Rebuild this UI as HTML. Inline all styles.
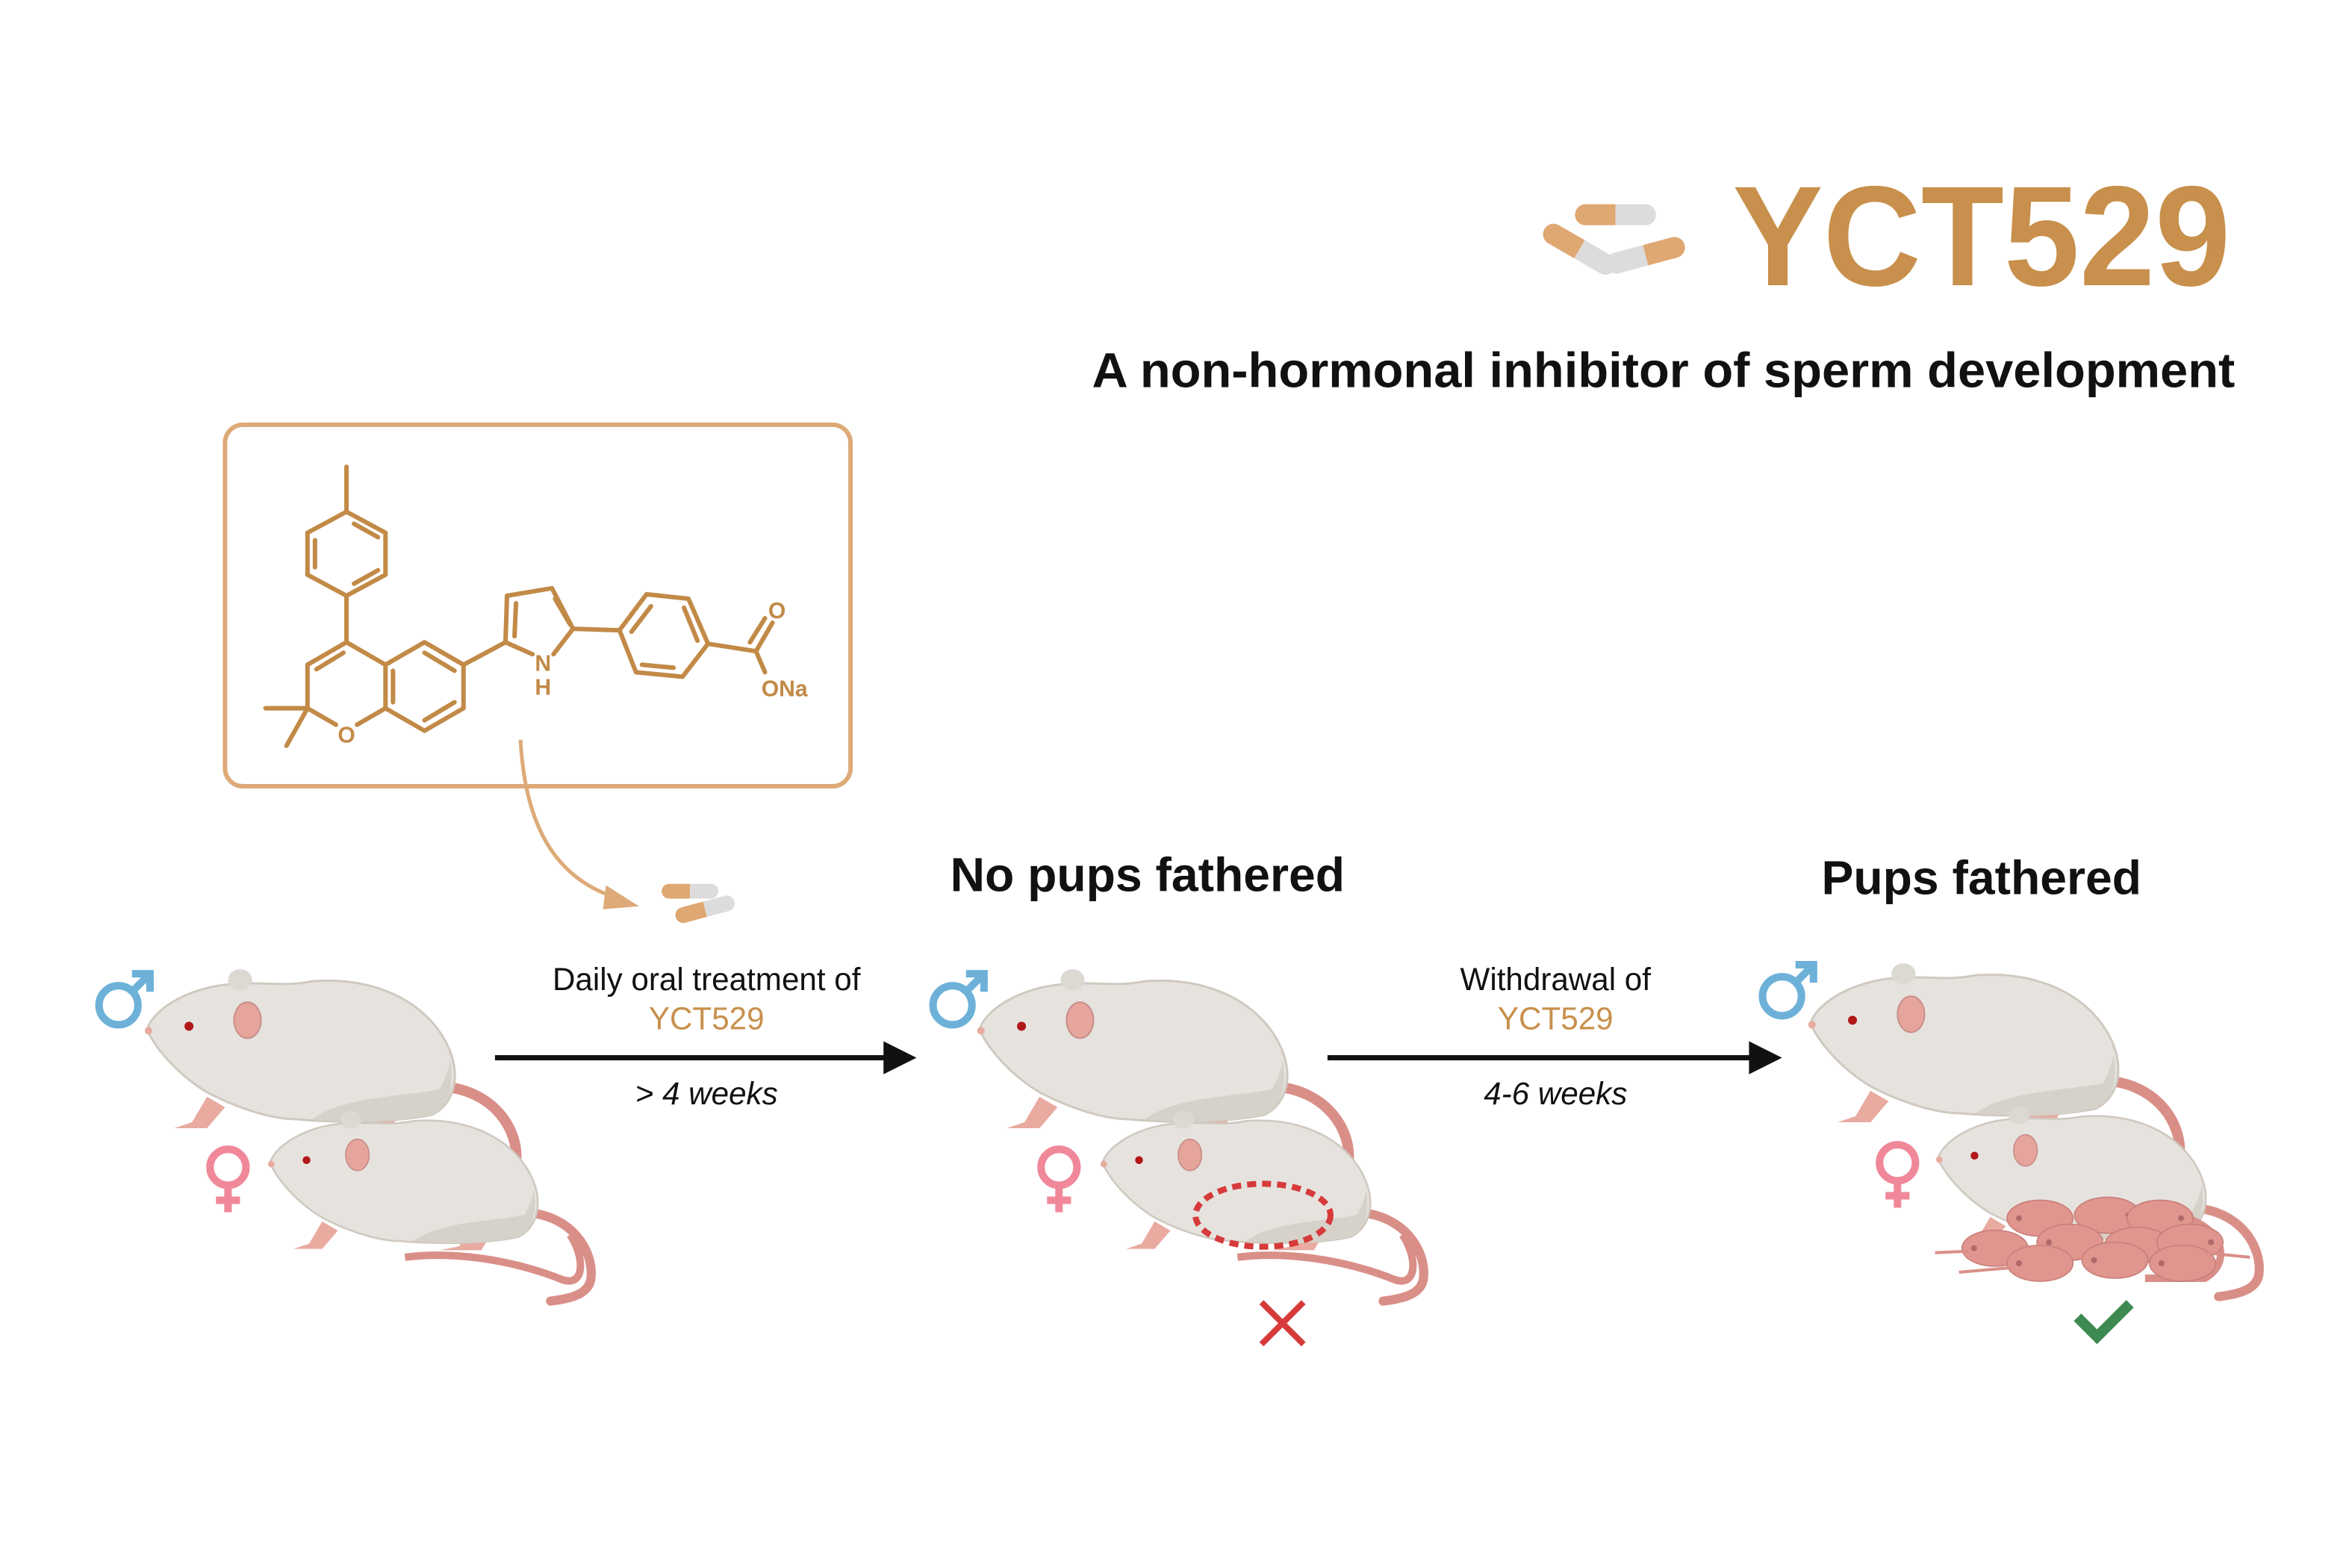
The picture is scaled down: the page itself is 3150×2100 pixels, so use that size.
<!DOCTYPE html>
<html><head><meta charset="utf-8"><style>
html,body{margin:0;padding:0;background:#fff;}
svg{display:block;}
text{font-family:"Liberation Sans",Arial,sans-serif;}
</style></head><body>
<svg width="3150" height="2100" viewBox="0 0 1568 1045" xmlns="http://www.w3.org/2000/svg">
<defs>
<g id="rat">
  <path d="M195,38 C232,40 248,68 246,88 C245,100 232,104 215,106" fill="none" stroke="#d98f88" stroke-width="7" stroke-linecap="round"/>
  <path d="M40,45 L30,62 L18,66 L40,66 L52,52Z" fill="#e9aaa0"/>
  <path d="M150,52 L145,64 L130,67 L162,67 L172,50Z" fill="#e9aaa0"/>
  <path d="M0,0 C5,-15 30,-28 55,-30 C80,-32 90,-28 110,-32 C150,-35 185,-20 200,10 C210,30 205,50 190,57 C160,63 120,62 100,60 C80,60 55,50 40,42 C20,30 5,12 0,0Z" fill="#e6e3df" stroke="#cfc9c0" stroke-width="1.5"/>
  <path d="M110,60 C130,45 170,45 195,40 C200,30 205,20 200,10 C205,30 205,50 190,57 C160,63 130,62 110,60Z" fill="#d6d1c9"/>
  <ellipse cx="62" cy="-33" rx="8" ry="7" fill="#dcd8d2"/>
  <ellipse cx="67" cy="-6" rx="9" ry="12" fill="#e5a59d" stroke="#c98f88" stroke-width="1"/>
  <circle cx="28" cy="-2" r="3" fill="#b01818"/>
  <circle cx="1" cy="1" r="2.5" fill="#e9aaa0"/>
</g>
<g id="pup">
  <ellipse cx="0" cy="0" rx="22" ry="12" fill="#e1958f" stroke="#c77f79" stroke-width="0.8"/>
  <circle cx="-14" cy="0" r="2" fill="#b06a6a"/>
</g>
<g id="capsule">
  <path d="M-20,-7 L0,-7 L0,7 L-20,7 A7,7 0 0 1 -20,-7Z" fill="#dfa772"/>
  <path d="M0,-7 L20,-7 A7,7 0 0 1 20,7 L0,7Z" fill="#dcdcdc"/>
</g>
</defs>

<!-- header -->
<g transform="translate(1077,143)"><use href="#capsule"/></g>
<g transform="translate(1053,166) rotate(30)"><use href="#capsule"/></g>
<g transform="translate(1097,170) rotate(-15) scale(-1,1)"><use href="#capsule"/></g>
<text x="1155" y="190" font-size="95" font-weight="bold" fill="#c8904c" textLength="332" lengthAdjust="spacingAndGlyphs">YCT529</text>
<text x="728" y="258" font-size="33" font-weight="bold" fill="#111" textLength="762" lengthAdjust="spacingAndGlyphs">A non-hormonal inhibitor of sperm development</text>

<!-- molecule box -->
<rect x="150" y="283" width="417" height="241" rx="12" fill="none" stroke="#ddaa78" stroke-width="3"/>
<g stroke="#c28a47" stroke-width="3" fill="none" stroke-linecap="round" stroke-linejoin="round">
  <path d="M231,311 L231,341"/>
  <path d="M231,341 L257,355 L257,383 L231,397 L205,383 L205,355 Z"/>
  <path d="M236,349 L252,358 M252,380 L236,389 M210,360 L210,378"/>
  <path d="M231,397 L231,428 L205,443 L205,472 L224,483"/>
  <path d="M238,483 L257,472"/>
  <path d="M231,428 L257,443"/>
  <path d="M229,435 L211,446"/>
  <path d="M257,443 L283,428 L309,443 L309,472 L283,487 L257,472 Z"/>
  <path d="M283,435 L303,447 M303,468 L283,480 M262,447 L262,468"/>
  <path d="M205,472 L177,472 M205,472 L191,497"/>
  <path d="M309,443 L337,428 L338,397 L368,392 L382,419 L369,436"/>
  <path d="M355,436 L337,428"/>
  <path d="M344,402 L343,424 M370,399 L380,416"/>
  <path d="M382,419 L413,420"/>
  <path d="M413,420 L431,396 L459,399 L472,429 L455,451 L424,448 Z"/>
  <path d="M434,404 L421,421 M456,405 L465,427 M449,445 L428,443"/>
  <path d="M472,429 L504,434 L510,448 M504,434 L515,415 M500,428 L510,412"/>
</g>
<g fill="#c28a47" font-size="15" font-weight="bold" text-anchor="middle">
  <text x="231" y="495">O</text>
  <text x="362" y="447">N</text>
  <text x="362" y="463">H</text>
  <text x="518" y="412">O</text>
  <text x="523" y="464">ONa</text>
</g>

<!-- curved arrow -->
<path d="M347,493 C350,550 370,585 410,598" fill="none" stroke="#ddaa78" stroke-width="2.5"/>
<path d="M426,604 L404,590 L402,606Z" fill="#ddaa78"/>
<g transform="translate(460,594) scale(0.7)"><use href="#capsule"/></g>
<g transform="translate(470,606) rotate(-15) scale(0.75)"><use href="#capsule"/></g>

<!-- group 1 -->
<g transform="translate(98,686)"><use href="#rat"/></g>
<g transform="translate(180,775) scale(0.87)"><use href="#rat"/></g>
<g transform="translate(270,788)"><path d="M0,50 C40,45 80,55 105,65 C120,70 120,50 110,35" fill="none" stroke="#d98f88" stroke-width="5"/></g>

<!-- group 2 -->
<g transform="translate(653,686)"><use href="#rat"/></g>
<g transform="translate(735,775) scale(0.87)"><use href="#rat"/></g>
<g transform="translate(825,788)"><path d="M0,50 C40,45 80,55 105,65 C120,70 120,50 110,35" fill="none" stroke="#d98f88" stroke-width="5"/></g>
<ellipse cx="842" cy="810" rx="45" ry="21" fill="none" stroke="#d63a3a" stroke-width="4" stroke-dasharray="6,4"/>
<path d="M841,868 L869,896 M869,868 L841,896" stroke="#d63a3a" stroke-width="4"/>

<!-- group 3 -->
<g transform="translate(1207,682)"><use href="#rat"/></g>
<g transform="translate(1292,772) scale(0.87)"><use href="#rat"/></g>
<path d="M1450,810 C1480,815 1490,840 1470,852 L1430,852" fill="none" stroke="#d98f88" stroke-width="5"/>
<g>
  <use href="#pup" transform="translate(1360,812)"/>
  <use href="#pup" transform="translate(1405,810) scale(-1,1)"/>
  <use href="#pup" transform="translate(1440,812) scale(-1,1)"/>
  <use href="#pup" transform="translate(1330,832)"/>
  <use href="#pup" transform="translate(1380,828)"/>
  <use href="#pup" transform="translate(1425,830)"/>
  <use href="#pup" transform="translate(1460,828) scale(-1,1)"/>
  <use href="#pup" transform="translate(1360,842)"/>
  <use href="#pup" transform="translate(1410,840)"/>
  <use href="#pup" transform="translate(1455,842)"/>
  <path d="M1290,835 L1312,834 M1306,848 L1340,845 M1470,835 L1500,838" stroke="#d98f88" stroke-width="2"/>
</g>
<path d="M1385,878 L1398,891 L1420,869" fill="none" stroke="#3d8a52" stroke-width="7"/>

<!-- sex symbols -->
<g fill="none" stroke-width="5">
  <g stroke="#6db1d9">
    <circle cx="79" cy="670" r="13"/><path d="M88,661 L100,649 M88,649 L100,649 L100,661"/>
    <circle cx="635" cy="670" r="13"/><path d="M644,661 L656,649 M644,649 L656,649 L656,661"/>
    <circle cx="1188" cy="664" r="13"/><path d="M1197,655 L1209,643 M1197,643 L1209,643 L1209,655"/>
  </g>
  <g stroke="#f0889a">
    <circle cx="152" cy="778" r="12"/><path d="M152,790 L152,808 M144,800 L160,800"/>
    <circle cx="706" cy="778" r="12"/><path d="M706,790 L706,808 M698,800 L714,800"/>
    <circle cx="1265" cy="775" r="12"/><path d="M1265,787 L1265,805 M1257,797 L1273,797"/>
  </g>
</g>

<!-- arrows -->
<line x1="330" y1="705" x2="594" y2="705" stroke="#111" stroke-width="3.5"/>
<path d="M611,705 L589,694 L589,716Z" fill="#111"/>
<line x1="885" y1="705" x2="1170" y2="705" stroke="#111" stroke-width="3.5"/>
<path d="M1188,705 L1166,694 L1166,716Z" fill="#111"/>

<g font-size="21" text-anchor="middle">
  <text x="471" y="660" fill="#111">Daily oral treatment of</text>
  <text x="471" y="686" fill="#c8904c">YCT529</text>
  <text x="471" y="736" fill="#111" font-style="italic">&gt; 4 weeks</text>
  <text x="1037" y="660" fill="#111">Withdrawal of</text>
  <text x="1037" y="686" fill="#c8904c">YCT529</text>
  <text x="1037" y="736" fill="#111" font-style="italic">4-6 weeks</text>
</g>
<g font-size="32" font-weight="bold" text-anchor="middle" fill="#111">
  <text x="765" y="594">No pups fathered</text>
  <text x="1321" y="596">Pups fathered</text>
</g>
</svg>
</body></html>
